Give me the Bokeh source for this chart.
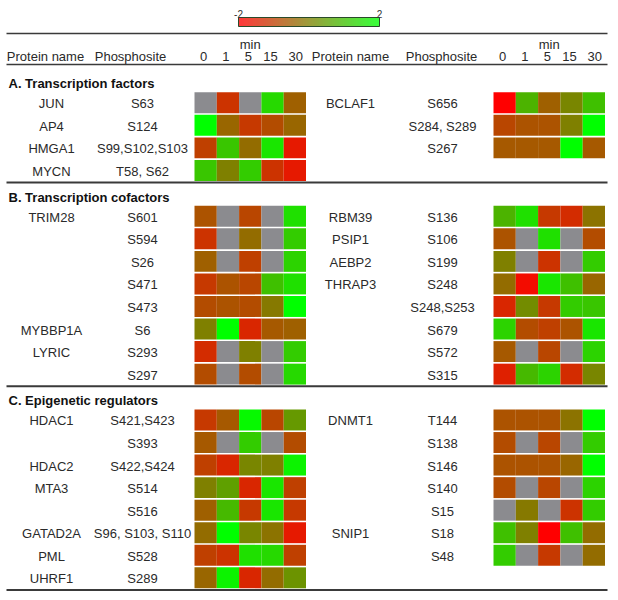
import numpy as np
from bokeh.plotting import figure
from bokeh.models import ColumnDataSource, Range1d, LinearColorMapper
from bokeh.transform import transform
from bokeh.core.properties import value
from bokeh.embed import file_html
from bokeh.resources import INLINE

nan = float("nan")

# ---------------- data ----------------
timepoints = ["0", "1", "5", "15", "30"]
section_titles = ["A. Transcription factors", "B. Transcription cofactors", "C. Epigenetic regulators"]

a_left_protein = ["JUN", "AP4", "HMGA1", "MYCN"]
a_left_site = ["S63", "S124", "S99,S102,S103", "T58, S62"]
a_left_values = [
    [nan, -1.2, nan, 1.4, -0.5],
    [2.0, -0.4, -1.1, -0.8, -0.4],
    [-1.0, 1.1, -0.3, 1.6, -1.6],
    [1.1, 0.0, 1.2, -1.2, -1.6],
]
a_right_protein = ["BCLAF1", "", ""]
a_right_site = ["S656", "S284, S289", "S267"]
a_right_values = [
    [-2.0, 0.8, -0.5, 0.1, 1.0],
    [-0.9, -0.7, -0.7, 0.0, 2.0],
    [-0.6, -0.6, -0.6, 2.0, -0.6],
]

b_left_protein = ["TRIM28", "", "", "", "", "MYBBP1A", "LYRIC", ""]
b_left_site = ["S601", "S594", "S26", "S471", "S473", "S6", "S293", "S297"]
b_left_values = [
    [-0.7, nan, -0.9, nan, 1.5],
    [-1.2, nan, -0.3, nan, 1.2],
    [-0.5, nan, -1.0, nan, 1.3],
    [-1.1, -0.7, -0.9, 1.0, 1.5],
    [-0.8, -0.7, -0.8, -0.1, 2.0],
    [0.0, 2.0, -1.4, -0.6, -0.5],
    [-1.3, nan, 0.0, nan, 1.2],
    [-0.8, nan, -0.8, nan, 1.4],
]
b_right_protein = ["RBM39", "PSIP1", "AEBP2", "THRAP3", "", "", "", ""]
b_right_site = ["S136", "S106", "S199", "S248", "S248,S253", "S679", "S572", "S315"]
b_right_values = [
    [0.8, 1.5, -1.1, -1.3, -0.2],
    [-0.7, nan, 1.5, nan, -0.8],
    [0.0, nan, -1.2, nan, 1.2],
    [-0.3, -1.8, 1.6, 1.0, -0.4],
    [-1.4, 0.2, -1.1, 1.2, 1.1],
    [1.3, -0.8, -1.0, -0.7, 1.6],
    [-0.6, nan, -0.9, nan, 1.3],
    [-1.5, 0.9, 1.3, -1.3, 0.1],
]

c_left_protein = ["HDAC1", "", "HDAC2", "MTA3", "", "GATAD2A", "PML", "UHRF1"]
c_left_site = ["S421,S423", "S393", "S422,S424", "S514", "S516", "S96, S103, S110", "S528", "S289"]
c_left_values = [
    [-1.1, -0.6, 1.9, -0.9, 0.4],
    [-0.6, nan, 1.2, nan, -0.8],
    [-1.0, -1.4, 0.1, 0.0, 1.8],
    [0.0, 0.5, -1.4, 1.6, -1.0],
    [-0.5, 0.9, -1.1, 1.6, -1.1],
    [-0.3, 2.0, 0.1, -0.2, -1.6],
    [-1.0, -1.2, 1.5, 1.4, -1.0],
    [-0.4, 1.8, -1.4, -0.3, 0.3],
]
c_right_protein = ["DNMT1", "", "", "", "", "SNIP1", ""]
c_right_site = ["T144", "S138", "S146", "S140", "S15", "S18", "S48"]
c_right_values = [
    [-0.7, -0.7, -0.7, -0.2, 2.0],
    [-0.8, nan, -0.9, nan, 1.2],
    [-0.7, -0.7, -0.7, -0.4, 2.0],
    [-0.8, nan, -0.9, nan, 1.3],
    [nan, -0.1, nan, -1.2, 1.2],
    [1.0, 0.0, -2.0, 1.0, -0.3],
    [1.2, nan, -1.1, nan, -0.3],
]

color_low, color_high = -2, 2

# ---------------- layout constants ----------------
FONT = value("Liberation Sans")
PITCH = 22.55
GAP = 1.6
CELL_W = 22.3
HEAT_LEFT = [194.0, 493.0]          # left edge of heatmap block (left / right half)
PROT_X = [51.0, 350.0]              # protein name column centre
SITE_X = [142.0, 442.0]             # phosphosite column centre
HDR_PROT_X = [45.0, 350.0]
HDR_SITE_X = [130.0, 441.0]
TOP_LINE_Y = 33.0
HDR_Y = 56.0
MIN_Y = 44.0
HDR_LINE_Y = 64.0
FIRST_SECTION_TOP = 72.0
LINE_X0, LINE_X1 = 6.0, 607.0

# colour palette red -> green (linear)
palette = []
for i in range(256):
    t = i / 255
    palette.append("#%02x%02x%02x" % (int(round(255 * (1 - t))), int(round(255 * t)), 0))
mapper = LinearColorMapper(palette=palette, low=color_low, high=color_high, nan_color="#8b8b8f")

p = figure(width=610, height=592, x_range=Range1d(0, 610), y_range=Range1d(592, 0),
           output_backend="svg", toolbar_location=None, min_border=0,
           x_axis_location=None, y_axis_location=None)
p.xgrid.visible = False
p.ygrid.visible = False
p.outline_line_color = None

blocks = [
    (a_left_protein, a_left_site, a_left_values, a_right_protein, a_right_site, a_right_values),
    (b_left_protein, b_left_site, b_left_values, b_right_protein, b_right_site, b_right_values),
    (c_left_protein, c_left_site, c_left_values, c_right_protein, c_right_site, c_right_values),
]

cx, cy, cv = [], [], []
tx, ty, tt = [], [], []
bx, by, bt = [], [], []
lx0, lx1, ly, lw = [], [], [], []

# top lines
lx0 += [LINE_X0, LINE_X0]; lx1 += [LINE_X1, LINE_X1]; ly += [TOP_LINE_Y, HDR_LINE_Y]; lw += [1.6, 1.6]

# headers
for side in range(2):
    tx += [HDR_PROT_X[side], HDR_SITE_X[side]]
    ty += [HDR_Y, HDR_Y]
    tt += ["Protein name", "Phosphosite"]
    for j, tp in enumerate(timepoints):
        tx.append(HEAT_LEFT[side] + (j + 0.5) * CELL_W - (2 if j < 4 else -1))
        ty.append(HDR_Y)
        tt.append(tp)
    tx.append(HEAT_LEFT[side] + 2.5 * CELL_W)
    ty.append(MIN_Y)
    tt.append("min")

top = FIRST_SECTION_TOP
for s, blk in enumerate(blocks):
    title_y = top + 11
    row_top = top + 19
    bx.append(8.0); by.append(title_y); bt.append(section_titles[s])
    nrows = max(len(blk[1]), len(blk[4]))
    for side in range(2):
        prots, sites, vals = blk[3 * side], blk[3 * side + 1], blk[3 * side + 2]
        for i in range(len(sites)):
            yc = row_top + (i + 0.5) * PITCH
            tx += [PROT_X[side], SITE_X[side]]
            ty += [yc + 1, yc + 1]
            tt += [prots[i], sites[i]]
            for j, v in enumerate(vals[i]):
                cx.append(HEAT_LEFT[side] + (j + 0.5) * CELL_W)
                cy.append(yc)
                cv.append(v)
    line_y = row_top + nrows * PITCH + 0.8
    lx0.append(LINE_X0); lx1.append(LINE_X1); ly.append(line_y); lw.append(2.0)
    top = line_y + 3.5

cells = ColumnDataSource(dict(x=cx, y=cy, v=cv))
p.rect(x="x", y="y", width=CELL_W, height=PITCH - GAP, source=cells,
       fill_color=transform("v", mapper), line_color=None)

lines = ColumnDataSource(dict(x0=lx0, x1=lx1, y=ly, w=lw))
p.segment(x0="x0", y0="y", x1="x1", y1="y", line_width="w", line_color="#3a3a3a", source=lines)

labels = ColumnDataSource(dict(x=tx, y=ty, t=tt))
p.text(x="x", y="y", text="t", source=labels, text_font=FONT, text_font_size="13px",
       text_align="center", text_baseline="middle", text_color="#2a2a2a")

titles = ColumnDataSource(dict(x=bx, y=by, t=bt))
p.text(x="x", y="y", text="t", source=titles, text_font=FONT, text_font_size="13px",
       text_font_style="bold", text_align="left", text_baseline="middle", text_color="#111111")

# colour bar (gradient through the same mapper)
CB_X0, CB_X1, CB_Y, CB_H = 238.0, 379.0, 21.5, 9.0
n_cb = 141
cb_vals = list(np.linspace(color_low, color_high, n_cb))
cb_w = (CB_X1 - CB_X0) / n_cb
cb_src = ColumnDataSource(dict(x=[CB_X0 + (i + 0.5) * cb_w for i in range(n_cb)],
                               y=[CB_Y] * n_cb, v=cb_vals))
p.rect(x="x", y="y", width=cb_w * 1.05, height=CB_H, source=cb_src,
       fill_color=transform("v", mapper), line_color=None)
p.rect(x=[(CB_X0 + CB_X1) / 2], y=[CB_Y], width=CB_X1 - CB_X0, height=CB_H,
       fill_color=None, line_color="#2a4a2a", line_width=1)
cb_lbl = ColumnDataSource(dict(x=[CB_X0, CB_X1], y=[CB_Y - CB_H / 2 - 4, CB_Y - CB_H / 2 - 4],
                               t=[str(color_low), str(color_high)]))
p.text(x="x", y="y", text="t", source=cb_lbl, text_font=FONT, text_font_size="10px",
       text_align="center", text_baseline="middle", text_color="#333333")

open("out.html", "w").write(file_html(p, INLINE))
